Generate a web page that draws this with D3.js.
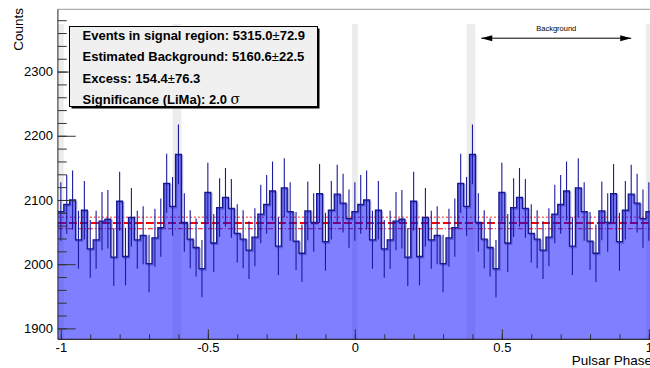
<!DOCTYPE html>
<html>
<head>
<meta charset="utf-8">
<script src="https://cdn.jsdelivr.net/npm/d3@7"></script>
<style>
  body { margin: 0; background: #fff; }
  svg { display: block; font-family: 'Liberation Sans', Arial, Helvetica, sans-serif; }
</style>
</head>
<body>
<div id="chart"></div>
<script>
// Counts per phase bin (bin width 0.02, centres 0.00 .. 0.98), one period
const counts = [
  2082, 2093, 2100, 2038, 2084, 2024, 2038, 2067, 2070, 2011,
  2098, 2012, 2073, 2038, 2045, 2001, 2041, 2057, 2126, 2090,
  2171, 2065, 2039, 2026, 1993, 2112, 2033, 2088, 2104, 2087,
  2048, 2039, 2022, 2042, 2078, 2093, 2114, 2028, 2119, 2082,
  2036, 2017, 2083, 2065, 2110, 2035, 2084, 2109, 2095, 2071
]
const binWidth = 0.02
const phaseRange = [-1.01, 1.01]

// Estimated background level per bin and its error
const bgLevel = 2064.2
const bgErr = 9.0

// Shaded phase regions (signal / background edges)
const bands = [[-1.01, -0.99], [-0.62, -0.59], [-0.01, 0.01], [0.38, 0.41], [0.99, 1.01]]
const bandTop = 2374

// Background arrow
const bgArrow = [0.43, 0.94]
const bgArrowLevel = 2352

const xTicks = [-1, -0.5, 0, 0.5, 1]
const xMinor = d3.range(-10, 11).map(d => d / 10)
const yTicks = [1900, 2000, 2100, 2200, 2300]
const yMinor = d3.range(1900, 2400, 20)

const statLines = [
  ['Events in signal region: 5315.0', '±', '72.9'],
  ['Estimated Background: 5160.6', '±', '22.5'],
  ['Excess: 154.4', '±', '76.3'],
  ['Significance (LiMa): 2.0 ', 'σ', '']
]

const W = 650, H = 368
const svg = d3.select('#chart').append('svg')
  .attr('width', W).attr('height', H)

const x = d3.scaleLinear().domain(phaseRange).range([57.9, 651.8])
const y = d3.scaleLinear().domain([1883, 2397]).range([339.3, 9.3])
const [x0, x1] = x.range()
const [yb, yt] = y.range()

svg.append('defs').append('clipPath').attr('id', 'plot')
  .append('rect').attr('x', x0).attr('y', yt).attr('width', W - x0).attr('height', yb - yt)

const plot = svg.append('g').attr('clip-path', 'url(#plot)')

// shaded bands
plot.selectAll('.band').data(bands).enter().append('rect')
  .attr('x', d => x(d[0])).attr('width', d => x(d[1]) - x(d[0]))
  .attr('y', y(bandTop)).attr('height', yb - y(bandTop))
  .attr('fill', '#ececec')

// background level lines
const bgLines = [
  { v: bgLevel + bgErr, color: '#ff6a6a', w: 1.5, dash: '2,2' },
  { v: bgLevel, color: '#ff0000', w: 2, dash: '8,3' },
  { v: bgLevel - bgErr, color: '#ff0000', w: 1, dash: '5,2,1,2' }
]
plot.selectAll('.bg').data(bgLines).enter().append('line')
  .attr('x1', x0).attr('x2', W)
  .attr('y1', d => y(d.v)).attr('y2', d => y(d.v))
  .attr('stroke', d => d.color).attr('stroke-width', d => d.w)
  .attr('stroke-dasharray', d => d.dash)

// histogram bins over two periods
const bins = d3.range(101).map(k => ({ phase: -1 + binWidth * k, n: counts[k % counts.length] }))
const steps = bins.flatMap(b => [[b.phase - binWidth / 2, b.n], [b.phase + binWidth / 2, b.n]])

const area = d3.area().x(d => x(d[0])).y0(yb).y1(d => y(d[1]))
const line = d3.line().x(d => x(d[0])).y(d => y(d[1]))

plot.append('path').attr('d', area(steps))
  .attr('fill', 'rgb(0,0,255)').attr('fill-opacity', 0.5)

plot.append('path').attr('d', line(steps))
  .attr('transform', 'translate(1,1.2)')
  .attr('fill', 'none').attr('stroke', '#1a1a9e').attr('stroke-opacity', 0.35).attr('stroke-width', 1.6)

plot.append('path').attr('d', line(steps))
  .attr('fill', 'none').attr('stroke', '#16168f').attr('stroke-width', 1.3)

// error bars
plot.selectAll('.err').data(bins).enter().append('line')
  .attr('x1', d => x(d.phase)).attr('x2', d => x(d.phase))
  .attr('y1', d => y(d.n - Math.sqrt(d.n))).attr('y2', d => y(d.n + Math.sqrt(d.n)))
  .attr('stroke', '#1a1a9e').attr('stroke-width', 1.1)

// axes
const axisStyle = sel => {
  sel.select('.domain').remove()
  sel.selectAll('.tick line').attr('stroke', '#333')
  sel.selectAll('.tick text').attr('fill', '#000').style('font-size', '13px')
    .style('font-family', "'Liberation Sans', Arial, sans-serif")
}

svg.append('g').attr('transform', `translate(${x0},0)`)
  .call(d3.axisLeft(y).tickValues(yMinor).tickSize(-8.9).tickFormat(''))
  .call(axisStyle)
svg.append('g').attr('transform', `translate(${x0},0)`)
  .call(d3.axisLeft(y).tickValues(yTicks).tickSize(-17.8).tickPadding(5).tickFormat(d => String(d)))
  .call(axisStyle)

svg.append('g').attr('transform', `translate(0,${yb})`)
  .call(d3.axisBottom(x).tickValues(xMinor).tickSize(-5).tickFormat(''))
  .call(axisStyle)
svg.append('g').attr('transform', `translate(0,${yb})`)
  .call(d3.axisBottom(x).tickValues(xTicks).tickSize(-10).tickPadding(3.5).tickFormat(d => String(d)))
  .call(axisStyle)

svg.append('line').attr('x1', x0).attr('x2', W).attr('y1', yt).attr('y2', yt)
  .attr('stroke', '#999').attr('stroke-width', 1)
svg.append('line').attr('x1', x0).attr('x2', x0).attr('y1', yt).attr('y2', yb)
  .attr('stroke', '#222').attr('stroke-width', 1)
svg.append('line').attr('x1', x0).attr('x2', W).attr('y1', yb).attr('y2', yb)
  .attr('stroke', '#000').attr('stroke-width', 1)

// axis titles
svg.append('text')
  .attr('transform', 'translate(22.5,8) rotate(-90)')
  .attr('text-anchor', 'end')
  .style('font-size', '13.5px')
  .text('Counts')

svg.append('text')
  .attr('x', 652).attr('y', 365)
  .attr('text-anchor', 'end')
  .style('font-size', '13.5px')
  .text('Pulsar Phase')

// stats box
const box = { x: 69.5, y: 26.5, w: 248, h: 80 }
svg.append('rect').attr('x', box.x + 2).attr('y', box.y + 2).attr('width', box.w).attr('height', box.h)
  .attr('fill', '#000')
svg.append('rect').attr('x', box.x).attr('y', box.y).attr('width', box.w).attr('height', box.h)
  .attr('fill', '#f0f0f0').attr('stroke', '#000').attr('stroke-width', 1)

const baselines = [39.5, 61, 82.5, 104]
statLines.forEach((parts, i) => {
  const t = svg.append('text')
    .attr('x', 82.5).attr('y', baselines[i])
    .style('font-size', '13px').style('font-weight', 'bold')
  t.append('tspan').text(parts[0])
  t.append('tspan').text(parts[1]).style('font-weight', 'normal')
    .style('font-family', i === 3 ? "'DejaVu Serif', 'Liberation Serif', serif" : null)
    .style('font-size', i === 3 ? '14px' : null)
  t.append('tspan').text(parts[2])
})

// background arrow
const ay = y(bgArrowLevel)
const ax0 = x(bgArrow[0]), ax1 = x(bgArrow[1])
svg.append('line').attr('x1', ax0).attr('x2', ax1).attr('y1', ay).attr('y2', ay)
  .attr('stroke', '#000').attr('stroke-width', 1)
svg.append('path').attr('d', `M${ax0},${ay}l11,-3v6z`).attr('fill', '#000')
svg.append('path').attr('d', `M${ax1},${ay}l-11,-3v6z`).attr('fill', '#000')
svg.append('text')
  .attr('x', (ax0 + ax1) / 2).attr('y', y(bgArrowLevel) - 7)
  .attr('text-anchor', 'middle')
  .style('font-size', '7.5px')
  .text('Background')
</script>
</body>
</html>
